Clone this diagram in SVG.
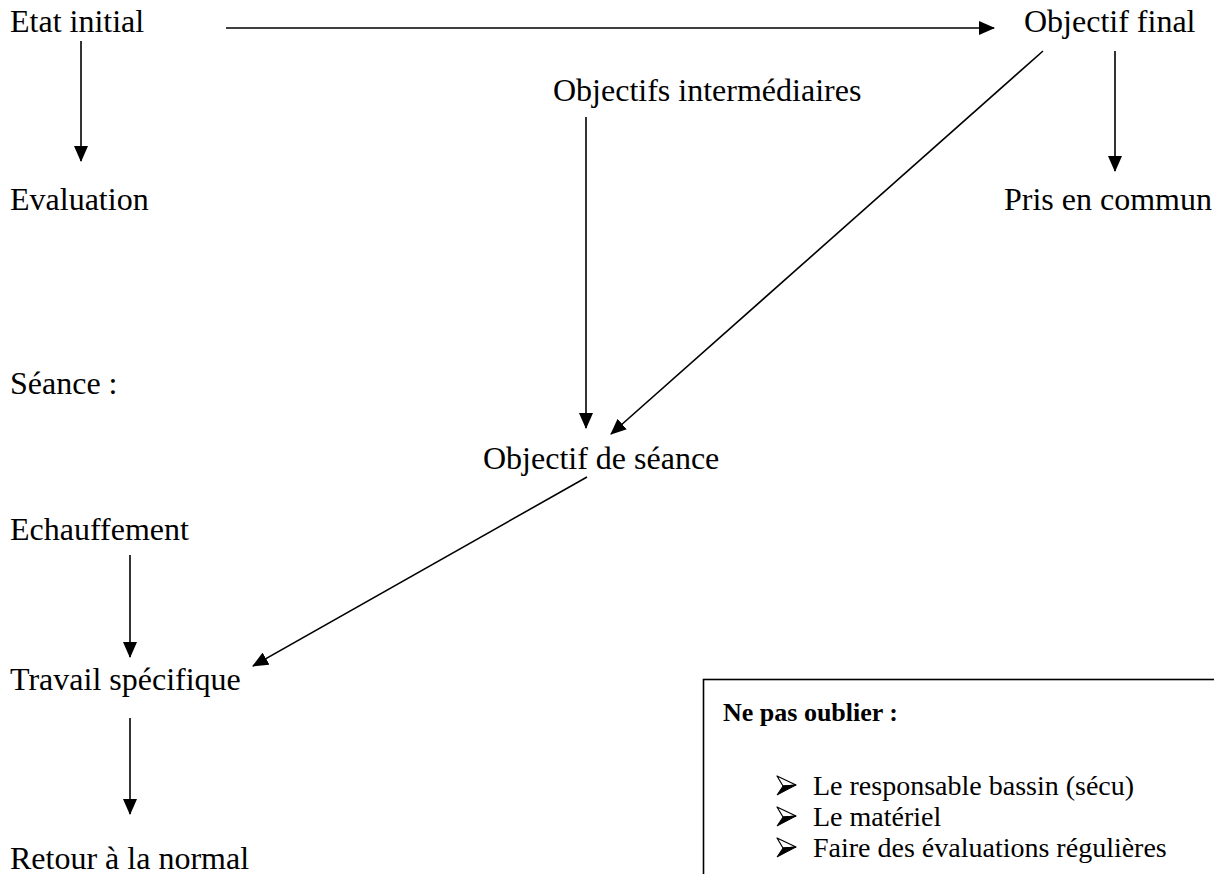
<svg xmlns="http://www.w3.org/2000/svg" width="1214" height="874" viewBox="0 0 1214 874">
<style>
.t{font-family:"Liberation Serif","Times New Roman",serif;font-size:32px;fill:#000}
.b{font-family:"Liberation Serif","Times New Roman",serif;font-size:28px;fill:#000}
.h{font-family:"Liberation Serif","Times New Roman",serif;font-size:26px;font-weight:bold;fill:#000}
.c{stroke:#000;stroke-width:1.6;fill:none;marker-end:url(#ah)}
</style>
<defs>
<marker id="ah" markerUnits="userSpaceOnUse" markerWidth="16" markerHeight="14" refX="15" refY="7" orient="auto">
<path d="M0,0 L16,7 L0,14 Z" fill="#000"/>
</marker>
<g id="bul">
<path d="M0,0 L19,9 L6,10 Z" fill="#fff" stroke="#000" stroke-width="1.2" stroke-linejoin="round"/>
<path d="M0,19 L19,9 L6,10 Z" fill="#000" stroke="#000" stroke-width="1" stroke-linejoin="round"/>
</g>
</defs>
<rect width="1214" height="874" fill="#fff"/>
<g id="connectors">
<line class="c" x1="226" y1="28" x2="994" y2="28"/>
<line class="c" x1="81" y1="41" x2="81" y2="161"/>
<line class="c" x1="1115" y1="51" x2="1115" y2="171"/>
<line class="c" x1="586" y1="117" x2="586" y2="428"/>
<line class="c" x1="1043" y1="51" x2="611" y2="434"/>
<line class="c" x1="587" y1="477" x2="253" y2="666"/>
<line class="c" x1="130" y1="555" x2="130" y2="657"/>
<line class="c" x1="130" y1="718" x2="130" y2="814"/>
</g>
<g id="etat-initial"><text class="t" x="10" y="32">Etat initial</text></g>
<g id="objectif-final"><text class="t" x="1024" y="32">Objectif final</text></g>
<g id="objectifs-intermediaires"><text class="t" x="553" y="101">Objectifs intermédiaires</text></g>
<g id="evaluation"><text class="t" x="10" y="210">Evaluation</text></g>
<g id="pris-en-commun"><text class="t" x="1004" y="210">Pris en commun</text></g>
<g id="seance"><text class="t" x="10" y="394">Séance :</text></g>
<g id="objectif-seance"><text class="t" x="483" y="469">Objectif de séance</text></g>
<g id="echauffement"><text class="t" x="10" y="540">Echauffement</text></g>
<g id="travail-specifique"><text class="t" x="10" y="690">Travail spécifique</text></g>
<g id="retour"><text class="t" x="10" y="869">Retour à la normal</text></g>
<g id="rappel">
<rect x="703.5" y="679.5" width="600" height="300" fill="none" stroke="#000" stroke-width="1.6"/>
<text class="h" x="723" y="721">Ne pas oublier :</text>
<use href="#bul" x="777" y="776"/>
<text class="b" x="813" y="795">Le responsable bassin (sécu)</text>
<use href="#bul" x="777" y="807"/>
<text class="b" x="813" y="826">Le matériel</text>
<use href="#bul" x="777" y="838"/>
<text class="b" x="813" y="857">Faire des évaluations régulières</text>
</g>
</svg>
